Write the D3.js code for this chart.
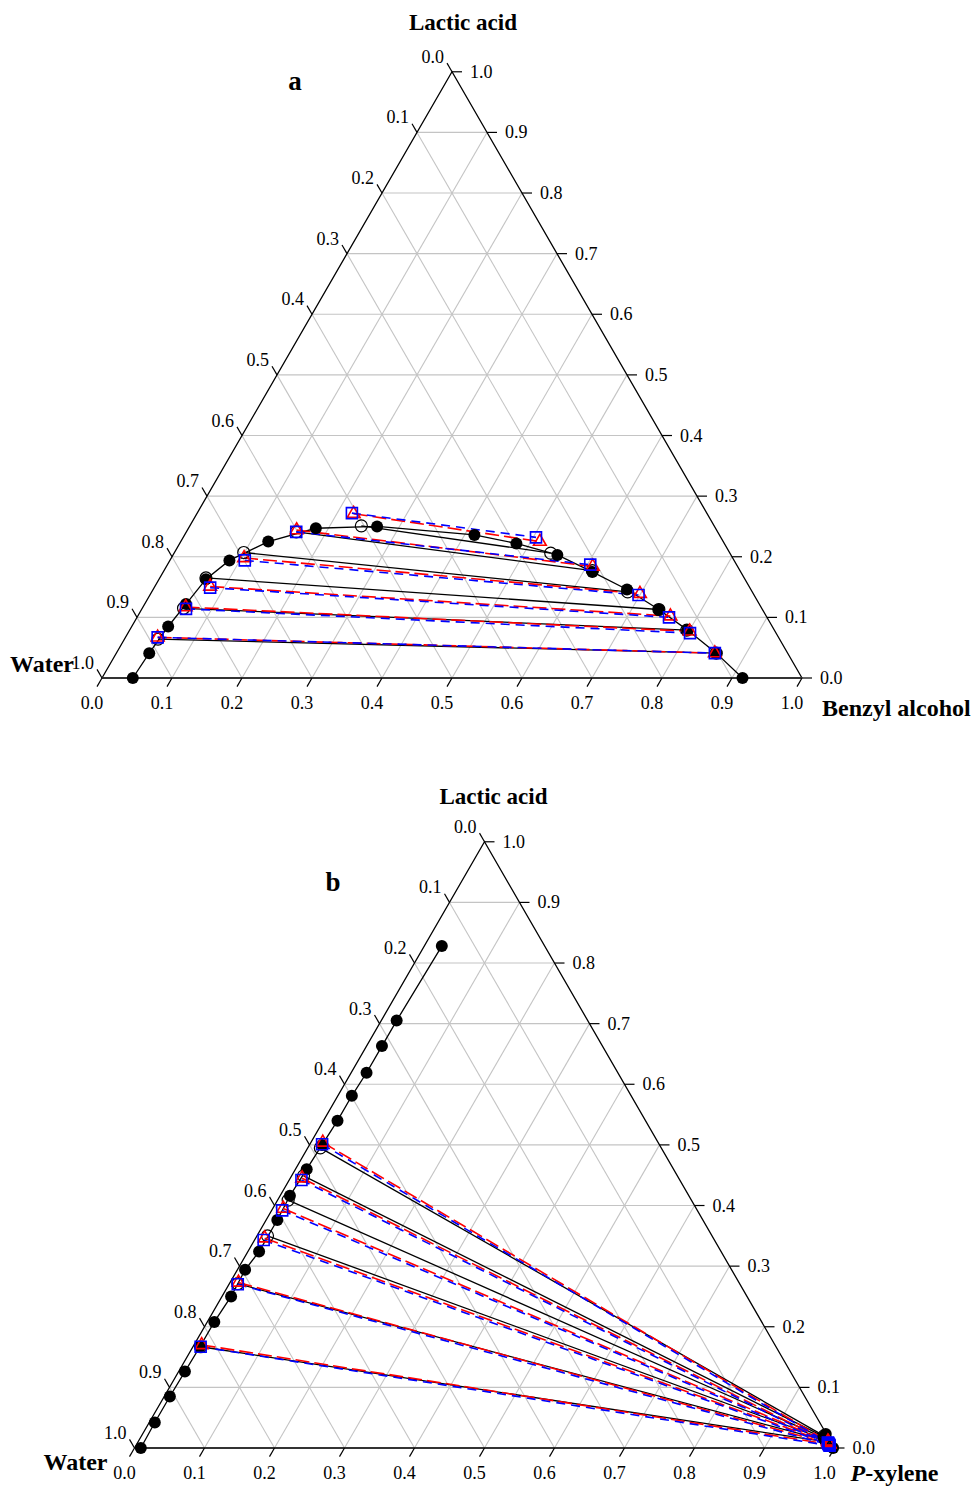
<!DOCTYPE html>
<html>
<head>
<meta charset="utf-8">
<script src="https://cdn.jsdelivr.net/npm/d3@7"></script>
<style>
  body { margin: 0; background: #fff; }
  text { font-family: "Liberation Serif", "Times New Roman", serif; fill: #000; }
</style>
</head>
<body>
<script>
// tick values shared by all three axes
const tickValues = d3.range(0, 11).map(i => i / 10);

// ---- panel a: water / lactic acid / benzyl alcohol ----
// every point is [benzyl alcohol fraction, lactic acid fraction]
const binodalA = [
  [0.044, 0.000], [0.047, 0.041], [0.052, 0.085], [0.059, 0.122], [0.067, 0.163],
  [0.085, 0.194], [0.125, 0.225], [0.182, 0.247], [0.268, 0.250], [0.414, 0.236],
  [0.481, 0.222], [0.549, 0.203], [0.613, 0.175], [0.677, 0.146], [0.739, 0.113],
  [0.797, 0.079], [0.857, 0.041], [0.915, 0.000]
];
const expTiesA = [
  [[0.245, 0.251], [0.538, 0.206]],
  [[0.157, 0.241], [0.612, 0.177]],
  [[0.099, 0.207], [0.680, 0.142]],
  [[0.066, 0.165], [0.739, 0.113]],
  [[0.059, 0.115], [0.796, 0.079]],
  [[0.048, 0.064], [0.857, 0.041]]
];
const nrtlTiesA = [
  [[0.224, 0.271], [0.513, 0.225]],
  [[0.156, 0.244], [0.609, 0.184]],
  [[0.104, 0.198], [0.699, 0.139]],
  [[0.079, 0.151], [0.761, 0.102]],
  [[0.061, 0.117], [0.801, 0.077]],
  [[0.046, 0.067], [0.855, 0.041]]
];
const uniquacTiesA = [
  [[0.221, 0.272], [0.504, 0.232]],
  [[0.157, 0.241], [0.604, 0.187]],
  [[0.107, 0.194], [0.698, 0.137]],
  [[0.080, 0.149], [0.760, 0.100]],
  [[0.063, 0.114], [0.803, 0.074]],
  [[0.046, 0.067], [0.855, 0.041]]
];

// ---- panel b: water / lactic acid / p-xylene ----
// every point is [p-xylene fraction, lactic acid fraction]
const binodalB = [
  [0.009, 0.000], [0.008, 0.042], [0.008, 0.085], [0.009, 0.126], [0.010, 0.167],
  [0.010, 0.208], [0.013, 0.250], [0.011, 0.294], [0.016, 0.324], [0.016, 0.376],
  [0.014, 0.416], [0.016, 0.460], [0.018, 0.500], [0.020, 0.540], [0.020, 0.581],
  [0.022, 0.619], [0.022, 0.663], [0.022, 0.705], [0.025, 0.828]
];
const binodalB2 = [[0.976, 0.023], [0.998, 0.000]];
const expTiesB = [
  [[0.018, 0.495], [0.975, 0.020]],
  [[0.017, 0.449], [0.977, 0.018]],
  [[0.015, 0.409], [0.978, 0.016]],
  [[0.015, 0.350], [0.980, 0.014]],
  [[0.012, 0.271], [0.982, 0.012]],
  [[0.011, 0.167], [0.984, 0.010]]
];
const nrtlTiesB = [
  [[0.017, 0.504], [0.985, 0.011]],
  [[0.017, 0.445], [0.986, 0.010]],
  [[0.015, 0.395], [0.987, 0.009]],
  [[0.013, 0.346], [0.988, 0.008]],
  [[0.012, 0.273], [0.989, 0.007]],
  [[0.011, 0.170], [0.990, 0.006]]
];
const uniquacTiesB = [
  [[0.0175, 0.501], [0.986, 0.009]],
  [[0.0175, 0.442], [0.987, 0.008]],
  [[0.015, 0.392], [0.988, 0.007]],
  [[0.013, 0.343], [0.989, 0.006]],
  [[0.0125, 0.270], [0.990, 0.005]],
  [[0.011, 0.167], [0.991, 0.004]]
];

const svg = d3.select("body").append("svg")
  .attr("width", 974)
  .attr("height", 1490);

function drawPanel(p) {
  const g = svg.append("g");
  const h = p.side * Math.sqrt(3) / 2;
  const x = d3.scaleLinear().domain([0, 1]).range([p.left, p.left + p.side]);
  const y = d3.scaleLinear().domain([0, 1]).range([p.base, p.base - h]);
  // ternary -> screen
  const px = d => x(d[0] + d[1] / 2);
  const py = d => y(d[1]);
  const line = d3.line().x(px).y(py);

  // grid
  const inner = tickValues.slice(1, 10);
  const grid = [];
  inner.forEach(v => {
    grid.push([[0, v], [1 - v, v]]);       // constant lactic acid
    grid.push([[v, 0], [v, 1 - v]]);       // constant organic
    grid.push([[1 - v, 0], [0, 1 - v]]);   // constant water
  });
  g.selectAll(".grid").data(grid).enter().append("path")
    .attr("d", line).attr("fill", "none")
    .attr("stroke", "#c4c4c4").attr("stroke-width", 1.1);

  // triangle edges
  g.append("path").attr("d", line([[0, 0], [0, 1], [1, 0]]))
    .attr("fill", "none").attr("stroke", "#000").attr("stroke-width", 1.3);
  g.append("path").attr("d", line([[0, 0], [1, 0]]))
    .attr("stroke", "#333").attr("stroke-width", 2);

  const tl = 10;
  const c = 0.5, s = Math.sqrt(3) / 2;
  // left axis (water): from apex (0.0) down to water corner (1.0)
  const left = tickValues.map(w => ({ v: w, d: [0, 1 - w] }));
  g.selectAll(".lt").data(left).enter().append("line")
    .attr("x1", d => px(d.d)).attr("y1", d => py(d.d))
    .attr("x2", d => px(d.d) - c * tl).attr("y2", d => py(d.d) - s * tl)
    .attr("stroke", "#000").attr("stroke-width", 1.2);
  g.selectAll(".ll").data(left).enter().append("text")
    .attr("x", d => px(d.d) - 8).attr("y", d => py(d.d) - 9)
    .attr("text-anchor", "end").attr("font-size", 18)
    .text(d => d3.format(".1f")(d.v));

  // right axis (lactic acid)
  const right = tickValues.map(l => ({ v: l, d: [1 - l, l] }));
  g.selectAll(".rt").data(right).enter().append("line")
    .attr("x1", d => px(d.d)).attr("y1", d => py(d.d))
    .attr("x2", d => px(d.d) + tl).attr("y2", d => py(d.d))
    .attr("stroke", "#000").attr("stroke-width", 1.2);
  g.selectAll(".rl").data(right).enter().append("text")
    .attr("x", d => px(d.d) + 18).attr("y", d => py(d.d) + 6)
    .attr("font-size", 18)
    .text(d => d3.format(".1f")(d.v));

  // bottom axis (organic)
  const bottom = tickValues.map(o => ({ v: o, d: [o, 0] }));
  g.selectAll(".bt").data(bottom).enter().append("line")
    .attr("x1", d => px(d.d)).attr("y1", d => py(d.d))
    .attr("x2", d => px(d.d) - c * tl).attr("y2", d => py(d.d) + s * tl)
    .attr("stroke", "#000").attr("stroke-width", 1.2);
  g.selectAll(".bl").data(bottom).enter().append("text")
    .attr("x", d => px(d.d) - 10).attr("y", d => py(d.d) + 31)
    .attr("text-anchor", "middle").attr("font-size", 18)
    .text(d => d3.format(".1f")(d.v));

  // binodal curves
  p.binodal.forEach(b => {
    g.append("path").attr("d", line(b)).attr("fill", "none")
      .attr("stroke", "#000").attr("stroke-width", 1.3);
  });

  // tie lines
  g.selectAll(".te").data(p.exp).enter().append("path")
    .attr("d", line).attr("fill", "none")
    .attr("stroke", "#000").attr("stroke-width", 1.3);
  g.selectAll(".tn").data(p.nrtl).enter().append("path")
    .attr("d", line).attr("fill", "none")
    .attr("stroke", "#ff0000").attr("stroke-width", 1.6)
    .attr("stroke-dasharray", "14,5");
  g.selectAll(".tu").data(p.uniquac).enter().append("path")
    .attr("d", line).attr("fill", "none")
    .attr("stroke", "#0000ff").attr("stroke-width", 1.6)
    .attr("stroke-dasharray", "9,6");

  // markers
  g.selectAll(".oc").data(p.exp.flat()).enter().append("circle")
    .attr("cx", px).attr("cy", py).attr("r", 6)
    .attr("fill", "none").attr("stroke", "#000").attr("stroke-width", 1.2);
  g.selectAll(".fc").data(p.binodal.flat()).enter().append("circle")
    .attr("cx", px).attr("cy", py).attr("r", 6).attr("fill", "#000");
  const tri = d3.symbol().type(d3.symbolTriangle).size(70);
  g.selectAll(".tr").data(p.nrtl.flat()).enter().append("path")
    .attr("d", tri).attr("transform", d => `translate(${px(d)},${py(d)})`)
    .attr("fill", "none").attr("stroke", "#ff0000").attr("stroke-width", 1.6);
  const sq = d3.symbol().type(d3.symbolSquare).size(121);
  g.selectAll(".sq").data(p.uniquac.flat()).enter().append("path")
    .attr("d", sq).attr("transform", d => `translate(${px(d)},${py(d)})`)
    .attr("fill", "none").attr("stroke", "#0000ff").attr("stroke-width", 1.6);

  // labels
  const apex = [0, 1], wc = [0, 0], oc = [1, 0];
  g.append("text").attr("x", px(apex) + p.titleDx).attr("y", py(apex) - p.titleDy)
    .attr("text-anchor", "middle").attr("font-size", 23).attr("font-weight", "bold")
    .text("Lactic acid");
  g.append("text").attr("x", p.letter[0]).attr("y", p.letter[1])
    .attr("text-anchor", "middle").attr("font-size", 27).attr("font-weight", "bold")
    .text(p.letterText);
  g.append("text").attr("x", px(wc) + p.waterD[0]).attr("y", py(wc) + p.waterD[1])
    .attr("text-anchor", "end").attr("font-size", 24).attr("font-weight", "bold")
    .text("Water");
  const ol = g.append("text").attr("x", px(oc) + p.orgD[0]).attr("y", py(oc) + p.orgD[1])
    .attr("font-size", 24).attr("font-weight", "bold");
  p.orgName.forEach(part => {
    ol.append("tspan").attr("font-style", part.italic ? "italic" : "normal").text(part.t);
  });
}

drawPanel({
  left: 102, base: 678, side: 700,
  binodal: [binodalA], exp: expTiesA, nrtl: nrtlTiesA, uniquac: uniquacTiesA,
  titleDx: 11, titleDy: 42, letter: [295, 90], letterText: "a",
  waterD: [-28, -6], orgD: [20, 38],
  orgName: [{ t: "Benzyl alcohol" }]
});

drawPanel({
  left: 134.5, base: 1448, side: 700,
  binodal: [binodalB, binodalB2], exp: expTiesB, nrtl: nrtlTiesB, uniquac: uniquacTiesB,
  titleDx: 9, titleDy: 38, letter: [333, 891], letterText: "b",
  waterD: [-27, 22], orgD: [16, 33],
  orgName: [{ t: "P", italic: true }, { t: "-xylene" }]
});
</script>
</body>
</html>
